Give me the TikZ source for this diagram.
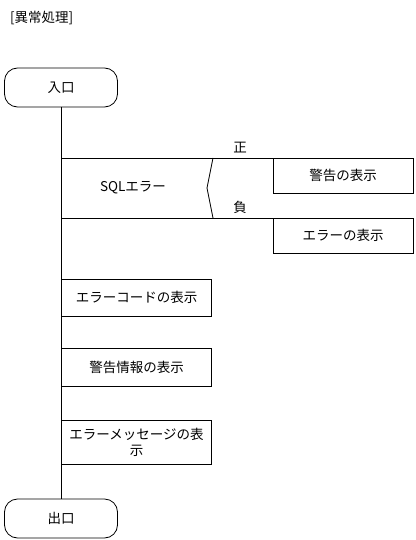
\documentclass[tikz,border=0pt]{standalone}
\usepackage{fontspec}
\setmainfont{Noto Sans CJK JP}
\begin{document}
\begin{tikzpicture}[x=1pt,y=-1pt,
  every node/.style={font=\fontsize{13.5}{16}\selectfont,inner sep=0pt,outer sep=0pt},
  ln/.style={draw=black,line width=0.8pt},
  term/.style={ln,rounded corners=13pt,minimum width=113pt,minimum height=39pt},
  proc/.style={ln,rectangle,minimum width=150pt,align=center},
  side/.style={ln,rectangle,minimum width=140pt,align=center},
]
\useasboundingbox (0,0) rectangle (415,540);
\node[anchor=west] (title) at (10,18) {[異常処理]};
\node[term] (entry) at (61,87.5) {入口};
\node[term] (exit) at (61,518.5) {出口};
\coordinate (top) at (61.5,107);
\coordinate (bot) at (61.5,499);
\draw[ln] (top) -- (bot);
% branch
\coordinate (bt) at (61.5,158);
\coordinate (bb) at (61.5,218);
\node[side,minimum height=35pt] (warn) at (343,175.5) {警告の表示};
\node[side,minimum height=35pt] (err) at (343,235.5) {エラーの表示};
\coordinate (ct) at (213,158);
\coordinate (cm) at (207,188);
\coordinate (cb) at (213,218);
\draw[ln] (bt) -- (warn.north east);
\draw[ln] (bb) -- (err.north west);
\draw[ln] (ct) -- (cm) -- (cb);
\node (sql) at (133,188) {SQLエラー};
\node (pos) at (240,148) {正};
\node (neg) at (240,207) {負};
% processes
\node[proc,minimum height=37pt,anchor=north west] (code) at (61.5,279) {エラーコードの表示};
\node[proc,minimum height=38pt,anchor=north west] (info) at (61.5,348) {警告情報の表示};
\node[proc,minimum height=44pt,anchor=north west] (msg) at (61.5,420) {エラーメッセージの表\\示};
\end{tikzpicture}
\end{document}
